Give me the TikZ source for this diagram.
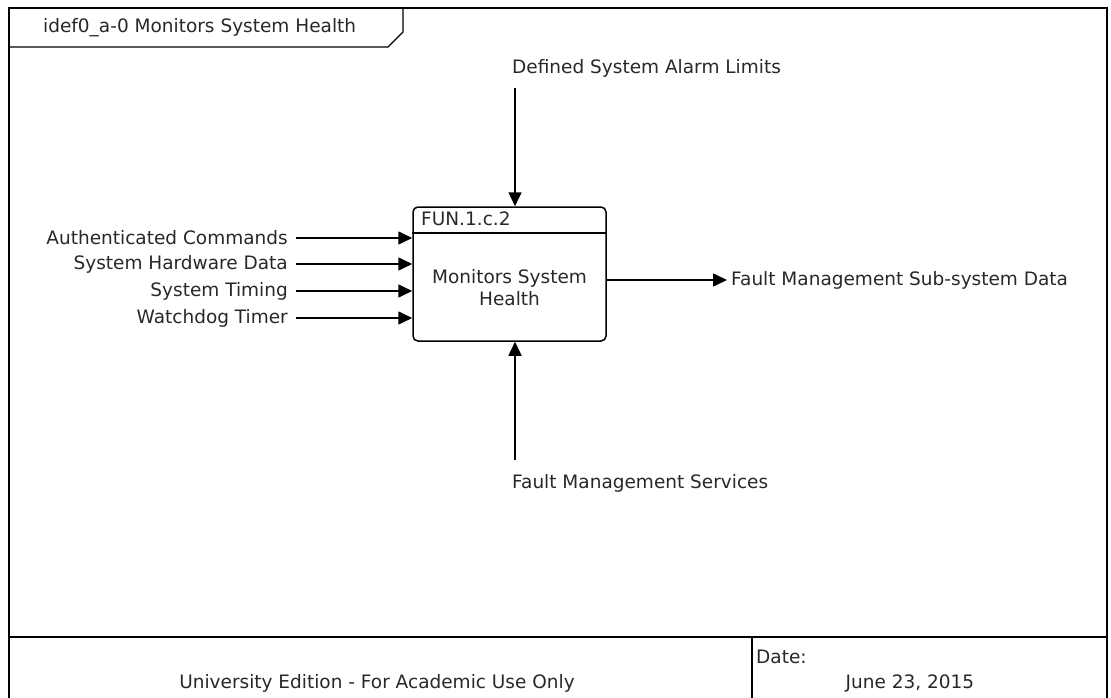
\documentclass[tikz,border=0pt]{standalone}
\usepackage{fontspec}
\setmainfont{DejaVu Sans}
\usetikzlibrary{arrows.meta}
\definecolor{txt}{RGB}{40,40,40}
\tikzset{
  lbl/.style={inner sep=0pt, text=txt, font=\fontsize{18.5}{22}\selectfont},
  arr/.style={line width=1.6pt, -{Triangle[length=14pt,width=13pt]}},
  frame/.style={line width=2.5pt},
  thin/.style={line width=1.3pt}
}
\begin{document}
\begin{tikzpicture}[x=1pt,y=-1pt]
\useasboundingbox (0,0) rectangle (1111,698);
% outer frame
\draw[frame] (9,700) -- (9,8) -- (1107,8) -- (1107,700);
\draw[frame] (9,637) -- (1107,637);
\draw[frame] (752,637) -- (752,700);
% title tab
\draw[thin] (9,47) -- (388,47) -- (403,32) -- (403,8);
\node[lbl, anchor=west] (title) at (43,28) {idef0\_a-0 Monitors System Health};
% activity box
\node[draw, line width=1.5pt, rounded corners=5pt, minimum width=193pt, minimum height=134pt, inner sep=0pt] (box) at (509.5,274) {};
\draw[line width=1.3pt] (box.west |- 0,233) -- (box.east |- 0,233);
\node[lbl, anchor=west] (num) at (421,219) {FUN.1.c.2};
\node[lbl, align=center] (name) at (509.5,288) {Monitors System\\Health};
% inputs
\node[lbl, anchor=east] (in1) at (288,238) {Authenticated Commands};
\node[lbl, anchor=east] (in2) at (288,264) {System Hardware Data};
\node[lbl, anchor=east] (in3) at (288,291) {System Timing};
\node[lbl, anchor=east] (in4) at (288,318) {Watchdog Timer};
\foreach \n in {in1,in2,in3,in4}
  \draw[arr] ([xshift=8pt]\n.east) -- (\n -| box.west);
% control
\node[lbl, anchor=west] (ctrl) at (512,68) {Defined System Alarm Limits};
\coordinate (c1) at (515,88);
\draw[arr] (c1) -- (c1 |- box.north);
% mechanism
\node[lbl, anchor=west] (mech) at (512,483) {Fault Management Services};
\coordinate (m1) at (515,460);
\draw[arr] (m1) -- (m1 |- box.south);
% output
\node[lbl, anchor=west] (out) at (731,280) {Fault Management Sub-system Data};
\coordinate (o1) at (box.east |- out);
\draw[arr] (o1) -- ([xshift=-4pt]out.west);
% footer
\node[lbl] (uni) at (377,683) {University Edition - For Academic Use Only};
\node[lbl, anchor=west] (datelbl) at (756,657) {Date:};
\node[lbl] (date) at (910,683) {June 23, 2015};
\end{tikzpicture}
\end{document}
